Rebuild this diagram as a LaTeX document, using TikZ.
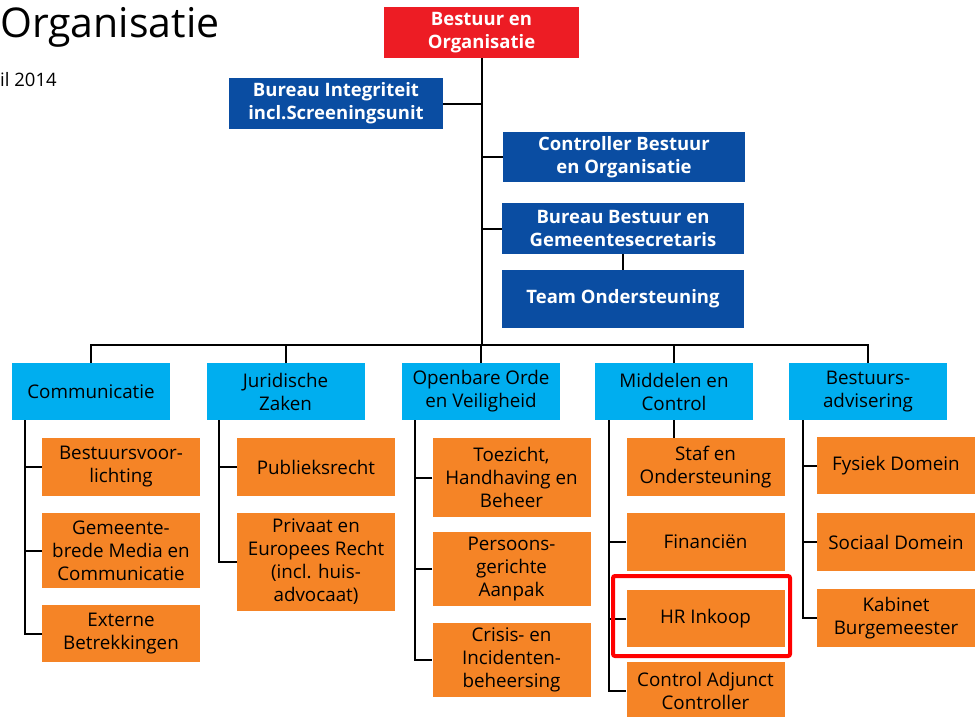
\documentclass[tikz,border=0pt]{standalone}
\usepackage{fontspec}
\setmainfont{Open Sans}
\usetikzlibrary{positioning}

\definecolor{boardred}{HTML}{ED1C24}
\definecolor{staffblue}{HTML}{0A4DA2}
\definecolor{deptblue}{HTML}{00AEEF}
\definecolor{unitorange}{HTML}{F58426}
\definecolor{markred}{HTML}{FF0000}

\begin{document}
\begin{tikzpicture}[x=1pt, y=-1pt,
  box/.style={inner sep=0pt, align=center, font=\fontsize{18.8}{23}\selectfont},
  boardbox/.style={box, fill=boardred, text=white, font=\fontsize{18.5}{23}\selectfont\bfseries},
  staffbox/.style={box, fill=staffblue, text=white, font=\fontsize{18.5}{23}\selectfont\bfseries},
  deptbox/.style={box, fill=deptblue, text=black, minimum width=158pt, minimum height=57pt},
  unitbox/.style={box, fill=unitorange, text=black, minimum width=158pt},
  link/.style={line width=2pt, black}]
\useasboundingbox (0,0) rectangle (977,717);

% titel
\node[anchor=base west, inner sep=0pt, font=\fontsize{41}{41}\selectfont] (title) at (0,38) {Organisatie};
\node[anchor=base west, inner sep=0pt, font=\fontsize{18.5}{18.5}\selectfont] (date) at (0,86) {il 2014};

% top en staf
\node[boardbox, minimum width=195pt, minimum height=51pt] (boss) at (481.5,32.5) {Bestuur en\\Organisatie};
\node[staffbox, minimum width=214pt, minimum height=51pt] (integ) at (336,103.5) {Bureau Integriteit\\incl.Screeningsunit};
\node[staffbox, minimum width=242pt, minimum height=50pt] (ctrl) at (624,157) {Controller Bestuur\\en Organisatie};
\node[staffbox, minimum width=242pt, minimum height=51pt] (bbg) at (623,228.5) {Bureau Bestuur en\\Gemeentesecretaris};
\node[staffbox, minimum width=242pt, minimum height=58pt] (team) at (623,299) {Team Ondersteuning};

% afdelingen
\node[deptbox] (comm) at (91,391.5) {Communicatie};
\node[deptbox] (jur) at (285.5,391.5) {Juridische\\Zaken};
\node[deptbox] (oov) at (481,391.5) {Openbare Orde\\en Veiligheid};
\node[deptbox] (mc) at (674,391.5) {Middelen en\\Control};
\node[deptbox] (ba) at (868,391.5) {Bestuurs-\\advisering};

% Communicatie
\node[unitbox, minimum height=58pt] (b1) at (121,467) {Bestuursvoor-\\lichting};
\node[unitbox, minimum height=75pt] (b2) at (121,550.5) {Gemeente-\\brede Media en\\Communicatie};
\node[unitbox, minimum height=57pt] (b3) at (121,633.5) {Externe\\Betrekkingen};

% Juridische Zaken
\node[unitbox, minimum height=58pt] (j1) at (316,467) {Publieksrecht};
\node[unitbox, minimum height=98pt] (j2) at (316,562) {Privaat en\\Europees Recht\\(incl. huis-\\advocaat)};

% Openbare Orde en Veiligheid
\node[unitbox, minimum height=79pt] (o1) at (511.5,477.5) {Toezicht,\\Handhaving en\\Beheer};
\node[unitbox, minimum height=74pt] (o2) at (511.5,569) {Persoons-\\gerichte\\Aanpak};
\node[unitbox, minimum height=74pt] (o3) at (511.5,660) {Crisis- en\\Incidenten-\\beheersing};

% Middelen en Control
\node[unitbox, minimum height=58pt] (m1) at (705.5,467) {Staf en\\Ondersteuning};
\node[unitbox, minimum height=58pt] (m2) at (705.5,542) {Financiën};
\node[unitbox, minimum height=57pt] (m3) at (705.5,618.5) {HR Inkoop};
\node[unitbox, minimum height=58pt] (m4) at (705.5,691) {Control Adjunct\\Controller};

% Bestuursadvisering
\node[unitbox, minimum height=57pt] (a1) at (896,465.5) {Fysiek Domein};
\node[unitbox, minimum height=58pt] (a2) at (896,542) {Sociaal Domein};
\node[unitbox, minimum height=58pt] (a3) at (896,618) {Kabinet\\Burgemeester};

% lijnen
\coordinate (bar) at (0,345);
\draw[link] (boss.south) -- (boss.south |- bar);
\draw[link] (integ.east) -- (integ.east -| boss.south);
\draw[link] (ctrl.west) -- (ctrl.west -| boss.south);
\draw[link] (bbg.west) -- (bbg.west -| boss.south);
\draw[link] (bbg.south) -- (team.north);

\draw[link] (comm.north) -- (comm.north |- bar) -- (ba.north |- bar) -- (ba.north);
\foreach \d in {jur,oov,mc}
  \draw[link] (\d.north) -- (\d.north |- bar);

\coordinate (cs) at ([xshift=13pt]comm.south west);
\coordinate (js) at ([xshift=13pt]jur.south west);
\coordinate (os) at ([xshift=13pt]oov.south west);
\coordinate (ms) at ([xshift=14pt]mc.south west);
\coordinate (as) at ([xshift=14pt]ba.south west);

\draw[link] (cs) |- (b3.west);
\foreach \u in {b1,b2}
  \draw[link] (\u.west) -- (\u.west -| cs);
\draw[link] (js) |- (j2.west);
\draw[link] (j1.west) -- (j1.west -| js);
\draw[link] (os) |- (o3.west);
\foreach \u in {o1,o2}
  \draw[link] (\u.west) -- (\u.west -| os);
\draw[link] (mc.south) -- (mc.south |- m1.north);
\draw[link] (ms) |- (m4.west);
\foreach \u in {m2,m3}
  \draw[link] (\u.west) -- (\u.west -| ms);
\draw[link] (as) |- (a3.west);
\foreach \u in {a1,a2}
  \draw[link] (\u.west) -- (\u.west -| as);

% markering
\draw[markred, line width=4pt, rounded corners=2pt] (613,576) rectangle (790,656);

\end{tikzpicture}
\end{document}
